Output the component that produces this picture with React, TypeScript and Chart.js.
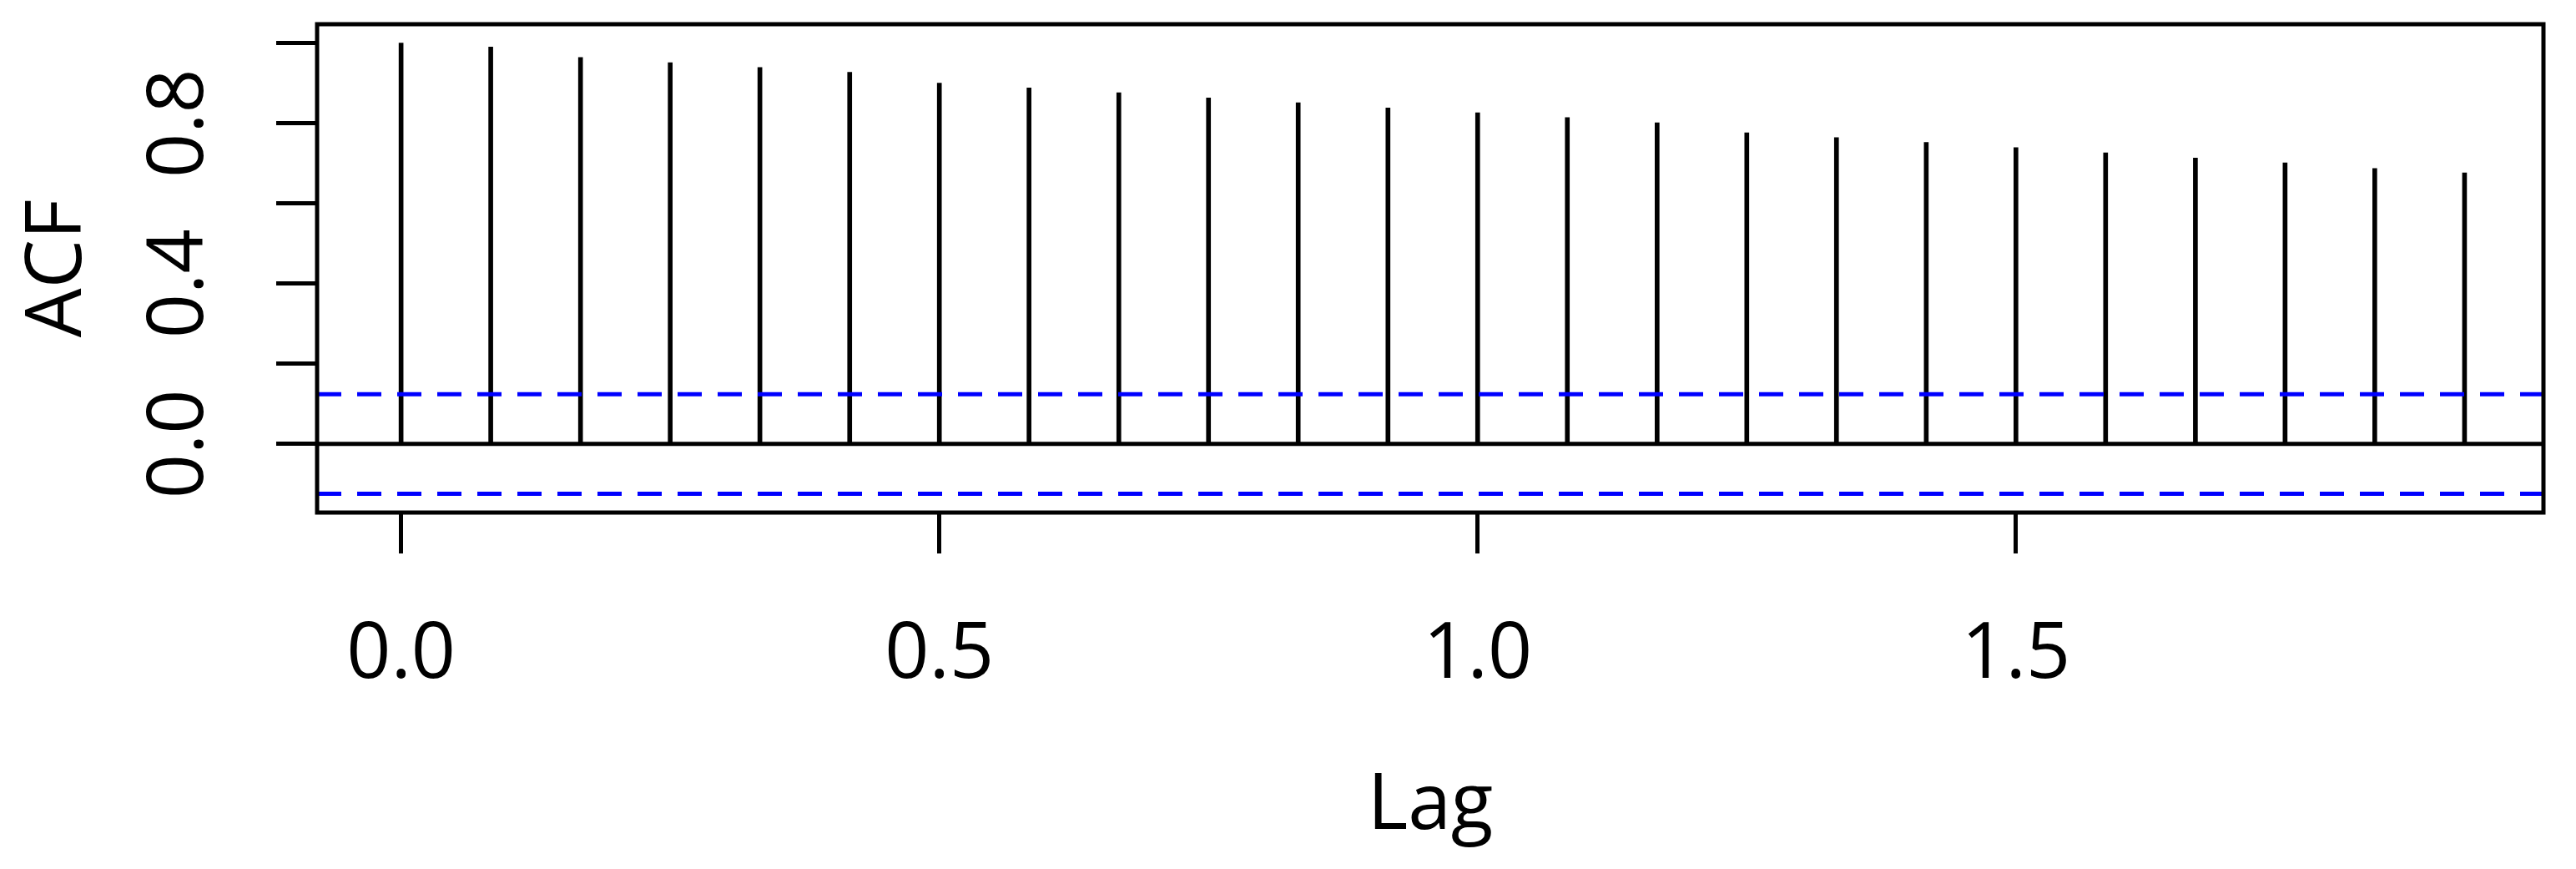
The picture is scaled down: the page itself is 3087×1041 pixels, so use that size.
import React, { useEffect, useRef } from "react";
import { Chart, registerables } from "chart.js";

Chart.register(...registerables);

// ---- data ----
const LAGS = [
  0.0, 0.0833, 0.1667, 0.25, 0.3333, 0.4167, 0.5, 0.5833, 0.6667, 0.75, 0.8333, 0.9167,
  1.0, 1.0833, 1.1667, 1.25, 1.3333, 1.4167, 1.5, 1.5833, 1.6667, 1.75, 1.8333, 1.9167,
];
const ACF_VALUES = [
  1.0, 0.99, 0.964, 0.951, 0.939, 0.927, 0.9, 0.888, 0.876, 0.863, 0.851, 0.838,
  0.826, 0.814, 0.801, 0.776, 0.764, 0.752, 0.739, 0.726, 0.713, 0.701, 0.687, 0.676,
];
const CI_UPPER = 0.124;
const CI_LOWER = -0.124;
const X_TICKS = [0, 0.5, 1.0, 1.5];
const X_TICK_LABELS = ["0.0", "0.5", "1.0", "1.5"];
const Y_TICKS = [0, 0.2, 0.4, 0.6, 0.8, 1.0];
const Y_TICK_LABELS = ["0.0", "", "0.4", "", "0.8", ""];
const X_RANGE = [-0.078, 1.99];
const Y_RANGE = [-0.171, 1.047];
const X_TITLE = "Lag";
const Y_TITLE = "ACF";

const FONT = "'Open Sans', sans-serif";
const LW = 5;

const boxPlugin = {
  id: "plotBox",
  afterDatasetsDraw(chart: any) {
    const { ctx, chartArea: a } = chart;
    ctx.save();
    ctx.strokeStyle = "#000";
    ctx.lineWidth = LW;
    ctx.strokeRect(a.left, a.top, a.right - a.left, a.bottom - a.top);
    ctx.restore();
  },
};

export default function App() {
  const ref = useRef<HTMLCanvasElement | null>(null);

  useEffect(() => {
    if (!ref.current) return;
    const stems = LAGS.map((x, i) => ({ x, y: ACF_VALUES[i] }));
    const chart = new Chart(ref.current, {
      type: "bar",
      data: {
        datasets: [
          {
            type: "line",
            data: [
              { x: X_RANGE[0], y: CI_UPPER },
              { x: X_RANGE[1], y: CI_UPPER },
            ],
            borderColor: "#0000FF",
            borderWidth: LW,
            borderDash: [29, 19],
            pointRadius: 0,
            order: 1,
          } as any,
          {
            type: "line",
            data: [
              { x: X_RANGE[0], y: CI_LOWER },
              { x: X_RANGE[1], y: CI_LOWER },
            ],
            borderColor: "#0000FF",
            borderWidth: LW,
            borderDash: [29, 19],
            pointRadius: 0,
            order: 1,
          } as any,
          {
            type: "line",
            data: [
              { x: X_RANGE[0], y: 0 },
              { x: X_RANGE[1], y: 0 },
            ],
            borderColor: "#000",
            borderWidth: LW,
            pointRadius: 0,
            order: 2,
          } as any,
          {
            type: "bar",
            data: stems,
            backgroundColor: "#000",
            borderWidth: 0,
            barThickness: LW,
            grouped: false,
            order: 3,
          } as any,
        ],
      },
      options: {
        animation: false,
        responsive: true,
        maintainAspectRatio: false,
        layout: { padding: { top: 29, right: 39, left: 0, bottom: 0 } },
        plugins: {
          legend: { display: false },
          tooltip: { enabled: false },
        },
        scales: {
          x: {
            type: "linear",
            min: X_RANGE[0],
            max: X_RANGE[1],
            offset: false,
            afterBuildTicks: (scale: any) => {
              scale.ticks = X_TICKS.map((v) => ({ value: v }));
            },
            afterFit: (scale: any) => {
              scale.height = 427;
              scale.paddingLeft = 0;
              scale.paddingRight = 0;
            },
            grid: {
              offset: false,
              drawOnChartArea: false,
              drawTicks: true,
              tickLength: 49,
              tickWidth: LW,
              tickColor: "#000",
            },
            border: { display: false },
            ticks: {
              autoSkip: false,
              maxRotation: 0,
              minRotation: 0,
              padding: 67,
              color: "#000",
              font: { family: FONT, size: 93, lineHeight: 1.2 },
              callback: (_v: any, i: number) => X_TICK_LABELS[i],
            },
            title: {
              display: true,
              text: X_TITLE,
              color: "#000",
              font: { family: FONT, size: 93, lineHeight: 1.2 },
              padding: { top: 0, bottom: 19 },
            },
          },
          y: {
            type: "linear",
            min: Y_RANGE[0],
            max: Y_RANGE[1],
            afterBuildTicks: (scale: any) => {
              scale.ticks = Y_TICKS.map((v) => ({ value: v }));
            },
            afterFit: (scale: any) => {
              scale.width = 380;
              scale.paddingTop = 0;
              scale.paddingBottom = 0;
            },
            grid: {
              offset: false,
              drawOnChartArea: false,
              drawTicks: true,
              tickLength: 49,
              tickWidth: LW,
              tickColor: "#000",
            },
            border: { display: false },
            ticks: {
              autoSkip: false,
              minRotation: 90,
              maxRotation: 90,
              crossAlign: "center",
              padding: 49,
              color: "#000",
              font: { family: FONT, size: 93, lineHeight: 1.2 },
              callback: (_v: any, i: number) => Y_TICK_LABELS[i],
            },
            title: {
              display: true,
              text: Y_TITLE,
              color: "#000",
              font: { family: FONT, size: 93, lineHeight: 1.2 },
              padding: { top: 15, bottom: 0 },
            },
          },
        },
      } as any,
      plugins: [boxPlugin],
    });
    return () => chart.destroy();
  }, []);

  return (
    <div
      style={{
        position: "fixed",
        left: 0,
        top: 0,
        width: 3087,
        height: 1041,
        background: "#fff",
      }}
    >
      <canvas ref={ref} />
    </div>
  );
}
